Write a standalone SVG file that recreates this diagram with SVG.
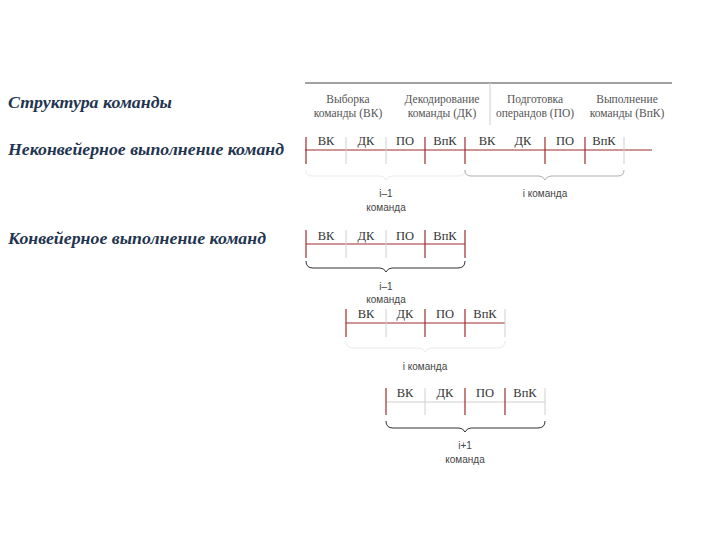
<svg xmlns="http://www.w3.org/2000/svg" width="720" height="540" viewBox="0 0 720 540">
<style>
.title{font-family:"Liberation Serif",serif;font-weight:bold;font-style:italic;font-size:17px;fill:#1f3550}
.hdr{font-family:"Liberation Serif",serif;font-size:11.5px;fill:#555;text-anchor:middle}
.cell{font-family:"Liberation Serif",serif;font-size:12.5px;fill:#333;text-anchor:middle}
.lbl{font-family:"Liberation Sans",sans-serif;font-size:10px;fill:#444;text-anchor:middle}
.red{stroke:#9e2a2e;stroke-width:1.2;fill:none}
.lt{stroke:#d0d0d0;stroke-width:1;fill:none}
.brace{stroke:#333;stroke-width:1;fill:none}
.brace2{stroke:#999;stroke-width:0.8;fill:none}
.brace3{stroke:#e4e4e4;stroke-width:0.8;fill:none}
</style>
<rect width="720" height="540" fill="#fff"/>
<g id="titles">
<text class="title" x="8" y="108" textLength="164" lengthAdjust="spacingAndGlyphs">Структура команды</text>
<text class="title" x="8" y="155" textLength="276" lengthAdjust="spacingAndGlyphs">Неконвейерное выполнение команд</text>
<text class="title" x="8" y="244" textLength="258" lengthAdjust="spacingAndGlyphs">Конвейерное выполнение команд</text>
</g>
<g id="header">
<line x1="305" y1="83" x2="672" y2="83" stroke="#444" stroke-width="1"/>
<line x1="490" y1="83" x2="490" y2="125" class="lt"/>
<text class="hdr" x="348" y="103">Выборка</text>
<text class="hdr" x="348" y="117">команды (ВК)</text>
<text class="hdr" x="442" y="103">Декодирование</text>
<text class="hdr" x="442" y="117">команды (ДК)</text>
<text class="hdr" x="535" y="103">Подготовка</text>
<text class="hdr" x="535" y="117">операндов (ПО)</text>
<text class="hdr" x="627" y="103">Выполнение</text>
<text class="hdr" x="627" y="117">команды (ВпК)</text>
</g>
<g id="row-nonpipe">
<line class="red" x1="305" y1="150" x2="652" y2="150"/>
<line class="red" x1="306" y1="137" x2="306" y2="164"/>
<line class="lt" x1="346" y1="137" x2="346" y2="164"/>
<line class="lt" x1="386" y1="137" x2="386" y2="164"/>
<line class="red" x1="425" y1="137" x2="425" y2="164"/>
<line class="red" x1="465" y1="137" x2="465" y2="164"/>
<line class="red" x1="545" y1="137" x2="545" y2="164"/>
<line class="red" x1="585" y1="137" x2="585" y2="164"/>
<line class="lt" x1="624" y1="137" x2="624" y2="164"/>
<text class="cell" x="326" y="145">ВК</text>
<text class="cell" x="366" y="145">ДК</text>
<text class="cell" x="405" y="145">ПО</text>
<text class="cell" x="445" y="145">ВпК</text>
<text class="cell" x="487" y="145">ВК</text>
<text class="cell" x="523" y="145">ДК</text>
<text class="cell" x="565" y="145">ПО</text>
<text class="cell" x="604" y="145">ВпК</text>
</g>
<g id="cmd-prev-np">
<path class="brace3" d="M306,170 q0,6 6,6 L380,176 q4,0 6,4 q2,-4 6,-4 L459,176 q6,0 6,-6"/>
<text class="lbl" x="386" y="197">i–1</text>
<text class="lbl" x="386" y="211">команда</text>
</g>
<g id="cmd-i-np">
<path class="brace2" d="M465,170 q0,6 6,6 L539,176 q4,0 6,4 q2,-4 6,-4 L618,176 q6,0 6,-6"/>
<text class="lbl" x="545" y="197">i команда</text>
</g>
<g id="pipe-1">
<line class="red" x1="306" y1="244" x2="465" y2="244"/>
<line class="red" x1="306" y1="230" x2="306" y2="258"/>
<line class="lt" x1="346" y1="230" x2="346" y2="258"/>
<line class="lt" x1="386" y1="230" x2="386" y2="258"/>
<line class="red" x1="425" y1="230" x2="425" y2="258"/>
<line class="red" x1="465" y1="230" x2="465" y2="258"/>
<text class="cell" x="326" y="240">ВК</text>
<text class="cell" x="366" y="240">ДК</text>
<text class="cell" x="405" y="240">ПО</text>
<text class="cell" x="445" y="240">ВпК</text>
<path class="brace" d="M306,261 q0,7 7,7 L380,268 q4,0 6,4 q2,-4 6,-4 L458,268 q7,0 7,-7"/>
<text class="lbl" x="386" y="290">i–1</text>
<text class="lbl" x="386" y="303">команда</text>
</g>
<g id="pipe-2">
<line class="red" x1="346" y1="323" x2="505" y2="323"/>
<line class="red" x1="346" y1="309" x2="346" y2="337"/>
<line class="lt" x1="386" y1="309" x2="386" y2="337"/>
<line class="red" x1="425" y1="309" x2="425" y2="337"/>
<line class="red" x1="465" y1="309" x2="465" y2="337"/>
<line class="lt" x1="505" y1="309" x2="505" y2="337"/>
<text class="cell" x="366" y="318">ВК</text>
<text class="cell" x="405" y="318">ДК</text>
<text class="cell" x="445" y="318">ПО</text>
<text class="cell" x="485" y="318">ВпК</text>
<path class="brace3" d="M346,341 q0,7 7,7 L419,348 q4,0 6,4 q2,-4 6,-4 L498,348 q7,0 7,-7"/>
<text class="lbl" x="425" y="370">i команда</text>
</g>
<g id="pipe-3">
<line class="lt" x1="386" y1="402" x2="545" y2="402"/>
<line class="red" x1="386" y1="388" x2="386" y2="415"/>
<line class="lt" x1="425" y1="388" x2="425" y2="415"/>
<line class="red" x1="465" y1="388" x2="465" y2="415"/>
<line class="red" x1="505" y1="388" x2="505" y2="415"/>
<line class="lt" x1="545" y1="388" x2="545" y2="415"/>
<text class="cell" x="405" y="397">ВК</text>
<text class="cell" x="445" y="397">ДК</text>
<text class="cell" x="485" y="397">ПО</text>
<text class="cell" x="525" y="397">ВпК</text>
<path class="brace" d="M386,421 q0,7 7,7 L459,428 q4,0 6,4 q2,-4 6,-4 L538,428 q7,0 7,-7"/>
<text class="lbl" x="465" y="449">i+1</text>
<text class="lbl" x="465" y="463">команда</text>
</g>
</svg>
